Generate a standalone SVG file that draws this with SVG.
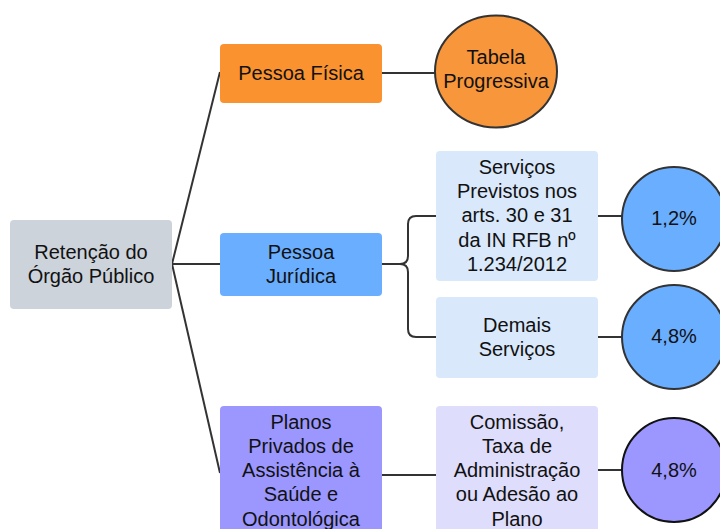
<svg xmlns="http://www.w3.org/2000/svg" width="720" height="529" viewBox="0 0 720 529">
<style>
text{font-family:"Liberation Sans",Arial,sans-serif;font-size:20px;fill:#111;text-anchor:middle}
.c{fill:none;stroke:#333;stroke-width:2}
.ci{stroke:#333;stroke-width:2}
</style>
<rect width="720" height="529" fill="#fff"/>
<g id="connectors">
<path class="c" d="M172 264 L220 72"/>
<path class="c" d="M172 264 L220 264"/>
<path class="c" d="M172 264 L220 473"/>
<path class="c" d="M382 73 L435 73"/>
<path class="c" d="M382 264 L400 264 Q408 264 408 256 L408 224 Q408 216 416 216 L436 216"/>
<path class="c" d="M400 264 Q408 264 408 272 L408 329 Q408 337 416 337 L436 337"/>
<path class="c" d="M382 475 L436 475"/>
<path class="c" d="M598 216 L622 216"/>
<path class="c" d="M598 337 L622 337"/>
<path class="c" d="M598 470 L622 470"/>
</g>
<g id="root"><rect x="10" y="220" width="162" height="89" rx="4" fill="#CDD3DB"/>
<text x="91" y="259">Retenção do</text><text x="91" y="283">Órgão Público</text></g>
<g id="pf"><rect x="220" y="44" width="162" height="59" rx="4" fill="#FA932F"/>
<text x="301" y="80">Pessoa Física</text></g>
<g id="pj"><rect x="220" y="233" width="162" height="63" rx="4" fill="#6AAEFF"/>
<text x="301" y="259">Pessoa</text><text x="301" y="283">Jurídica</text></g>
<g id="planos"><rect x="220" y="406" width="162" height="140" rx="4" fill="#9B97FF"/>
<text x="301" y="429">Planos</text><text x="301" y="453">Privados de</text><text x="301" y="477">Assistência à</text><text x="301" y="501">Saúde e</text><text x="301" y="526">Odontológica</text></g>
<g id="tabela"><ellipse cx="496" cy="71.5" rx="61" ry="56" class="ci" fill="#F7963A"/>
<text x="496" y="64">Tabela</text><text x="496" y="88">Progressiva</text></g>
<g id="servicos"><rect x="436" y="151" width="162" height="130" rx="4" fill="#D9E8FB"/>
<text x="517" y="174">Serviços</text><text x="517" y="198">Previstos nos</text><text x="517" y="222">arts. 30 e 31</text><text x="517" y="247">da IN RFB nº</text><text x="517" y="271">1.234/2012</text></g>
<g id="demais"><rect x="436" y="297" width="162" height="81" rx="4" fill="#D9E8FB"/>
<text x="517" y="332">Demais</text><text x="517" y="356">Serviços</text></g>
<g id="comissao"><rect x="436" y="406" width="162" height="140" rx="4" fill="#DEDDFB"/>
<text x="517" y="429">Comissão,</text><text x="517" y="453">Taxa de</text><text x="517" y="477">Administração</text><text x="517" y="501">ou Adesão ao</text><text x="517" y="526">Plano</text></g>
<g id="c12"><circle cx="674" cy="219" r="52" class="ci" fill="#6AAEFF"/>
<text x="674" y="225">1,2%</text></g>
<g id="c48a"><circle cx="674" cy="337" r="52" class="ci" fill="#6AAEFF"/>
<text x="674" y="343">4,8%</text></g>
<g id="c48b"><circle cx="674" cy="470" r="52" stroke="#111" stroke-width="2" fill="#9B97FF"/>
<text x="674" y="477">4,8%</text></g>
</svg>
